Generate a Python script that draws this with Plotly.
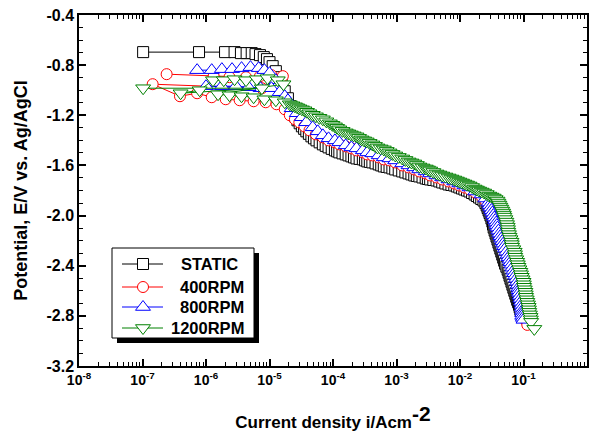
import numpy as np
import plotly.graph_objects as go

# ---- data (log10 of current density in A/cm^2, potential in V) ----
static_logi = [-6.99, -6.11, -5.70, -5.55, -5.45, -5.36, -5.28, -5.22, -5.15, -5.09, -5.04, -5.00,
               -4.95, -4.90, -4.86, -4.81, -4.76, -4.71, -4.67,
               -4.62, -4.59, -4.56, -4.525, -4.49, -4.455, -4.42, -4.38, -4.34, -4.30, -4.26, -4.21,
               -4.16, -4.115, -4.07, -4.02, -3.97, -3.935, -3.90, -3.85, -3.80, -3.755, -3.71, -3.67,
               -3.63, -3.58, -3.53, -3.495, -3.46, -3.42, -3.38, -3.33, -3.28, -3.24, -3.20, -3.155,
               -3.11, -3.065, -3.02, -2.965, -2.91, -2.86, -2.81, -2.765, -2.72, -2.68, -2.64, -2.59,
               -2.54, -2.505, -2.47, -2.42, -2.37, -2.325, -2.28, -2.23, -2.18, -2.135, -2.09, -2.05,
               -2.01, -1.97, -1.93, -1.89, -1.85, -1.81, -1.77, -1.735, -1.70, -1.665, -1.63,
               -1.60, -1.58, -1.565, -1.55, -1.535, -1.52, -1.505, -1.49, -1.48, -1.47, -1.455, -1.44,
               -1.425, -1.41, -1.395, -1.38, -1.365, -1.35, -1.335, -1.32, -1.305, -1.29, -1.27, -1.25,
               -1.235, -1.22, -1.205, -1.19, -1.175, -1.16, -1.145, -1.13, -1.115, -1.10, -1.085, -1.07,
               -1.06, -1.05]
static_e = [-0.696, -0.696, -0.696, -0.696, -0.704, -0.704, -0.704, -0.712, -0.72, -0.736, -0.752, -0.776,
            -0.808, -0.848, -0.896, -0.952, -1.008, -1.064, -1.128,
            -1.184, -1.212, -1.24, -1.264, -1.288, -1.308, -1.328, -1.348, -1.368, -1.384, -1.40, -1.416,
            -1.432, -1.444, -1.456, -1.468, -1.48, -1.488, -1.496, -1.504, -1.512, -1.52, -1.528, -1.536,
            -1.544, -1.548, -1.552, -1.56, -1.568, -1.572, -1.576, -1.584, -1.592, -1.60, -1.608, -1.612,
            -1.616, -1.624, -1.632, -1.64, -1.648, -1.656, -1.664, -1.672, -1.68, -1.684, -1.688, -1.696,
            -1.704, -1.708, -1.712, -1.716, -1.72, -1.728, -1.736, -1.744, -1.752, -1.756, -1.76, -1.768,
            -1.776, -1.784, -1.792, -1.80, -1.808, -1.82, -1.832, -1.844, -1.856, -1.868, -1.88,
            -1.90, -1.92, -1.94, -1.96, -1.98, -2.00, -2.024, -2.048, -2.072, -2.096, -2.12, -2.144,
            -2.168, -2.192, -2.216, -2.24, -2.264, -2.288, -2.312, -2.336, -2.36, -2.384, -2.408, -2.432,
            -2.456, -2.48, -2.504, -2.528, -2.552, -2.576, -2.60, -2.624, -2.648, -2.672, -2.692, -2.712,
            -2.732, -2.752]

rpm400_logi = [-6.62, -5.88, -5.63, -5.37, -5.15, -4.97, -4.79, -4.90, -5.12, -6.84, -6.41, -6.14,
               -5.91, -5.69, -5.47, -5.25, -5.06, -4.89, -4.76,
               -4.68, -4.60, -4.53, -4.45, -4.37, -4.27, -4.16, -4.07, -3.97, -3.90, -3.80, -3.71,
               -3.63, -3.53, -3.46, -3.38, -3.28, -3.20, -3.11, -3.02, -2.91, -2.81, -2.72, -2.64,
               -2.54, -2.47, -2.37, -2.28, -2.18, -2.09, -2.01, -1.93, -1.85, -1.76, -1.66, -1.60,
               -1.55,
               -1.52, -1.49, -1.46, -1.43, -1.39, -1.36, -1.33, -1.30, -1.27, -1.24, -1.21, -1.18,
               -1.14, -1.11, -1.08, -1.05, -1.02, -1.00, -0.99, -0.97, -0.96, -0.94]
rpm400_e = [-0.872, -0.888, -0.896, -0.896, -0.888, -0.88, -0.888, -0.968, -0.984, -0.952, -1.048, -1.024,
            -1.056, -1.072, -1.08, -1.088, -1.096, -1.112, -1.152,
            -1.20, -1.232, -1.256, -1.288, -1.32, -1.352, -1.376, -1.40, -1.416, -1.432, -1.448, -1.464,
            -1.48, -1.496, -1.512, -1.52, -1.536, -1.552, -1.56, -1.576, -1.60, -1.616, -1.632, -1.648,
            -1.664, -1.68, -1.696, -1.712, -1.728, -1.744, -1.76, -1.776, -1.792, -1.816, -1.848, -1.88,
            -1.912,
            -1.952, -1.992, -2.032, -2.072, -2.12, -2.16, -2.20, -2.24, -2.288, -2.328, -2.376, -2.416,
            -2.464, -2.512, -2.56, -2.608, -2.656, -2.704, -2.752, -2.80, -2.84, -2.872]

rpm800_logi = [-6.14, -5.91, -5.75, -5.59, -5.44, -5.30, -5.17, -5.08, -5.00, -4.90, -5.14, -5.33,
               -5.53, -5.75, -6.00, -4.97, -4.84, -4.76,
               -4.71, -4.65, -4.57, -4.49, -4.42, -4.32, -4.24, -4.16, -4.07, -3.97, -3.90, -3.80,
               -3.71, -3.63, -3.53, -3.46, -3.38, -3.28, -3.20, -3.11, -3.02, -2.91, -2.81, -2.72,
               -2.64, -2.54, -2.47, -2.37, -2.28, -2.18, -2.09, -2.01, -1.93, -1.85, -1.76, -1.66,
               -1.60, -1.55,
               -1.535, -1.52, -1.505, -1.49, -1.475, -1.46, -1.445, -1.43, -1.42, -1.41, -1.395, -1.38,
               -1.365, -1.35, -1.335, -1.32, -1.305, -1.29, -1.27, -1.25, -1.235, -1.22, -1.205, -1.19,
               -1.175, -1.16, -1.145, -1.13, -1.115, -1.10, -1.09, -1.08, -1.075, -1.07, -1.06, -1.05,
               -1.04, -1.03, -1.025, -1.02, -1.02, -1.02, -1.01, -1.00]
rpm800_e = [-0.84, -0.84, -0.832, -0.832, -0.824, -0.816, -0.824, -0.84, -0.864, -0.92, -0.984, -0.976,
            -0.968, -0.968, -0.968, -0.984, -1.016, -1.048,
            -1.08, -1.144, -1.184, -1.216, -1.256, -1.296, -1.328, -1.36, -1.384, -1.40, -1.416, -1.44,
            -1.456, -1.464, -1.48, -1.496, -1.504, -1.52, -1.536, -1.544, -1.56, -1.584, -1.60, -1.616,
            -1.632, -1.648, -1.664, -1.68, -1.696, -1.712, -1.728, -1.744, -1.76, -1.776, -1.808, -1.832,
            -1.864, -1.896,
            -1.916, -1.936, -1.956, -1.976, -1.996, -2.016, -2.036, -2.056, -2.076, -2.096, -2.12, -2.144,
            -2.164, -2.184, -2.204, -2.224, -2.244, -2.264, -2.288, -2.312, -2.332, -2.352, -2.372, -2.392,
            -2.416, -2.44, -2.46, -2.48, -2.504, -2.528, -2.552, -2.576, -2.596, -2.616, -2.64, -2.664,
            -2.688, -2.712, -2.736, -2.76, -2.78, -2.80, -2.816, -2.832]

rpm1200_logi = [-6.99, -5.12, -6.40, -6.10, -5.89, -5.72, -5.55, -5.37, -5.20, -5.03, -4.87, -4.78,
                -5.81, -5.63, -5.44, -5.25, -5.08, -4.90, -4.76,
                -4.68, -4.64, -4.60, -4.565, -4.53, -4.49, -4.45, -4.41, -4.37, -4.32, -4.27, -4.215,
                -4.16, -4.105, -4.05, -4.01, -3.97, -3.935, -3.90, -3.85, -3.80, -3.76, -3.72, -3.675,
                -3.63, -3.59, -3.55, -3.51, -3.47, -3.425, -3.38, -3.34, -3.30, -3.25, -3.20, -3.155,
                -3.11, -3.065, -3.02, -2.965, -2.91, -2.86, -2.81, -2.765, -2.72, -2.68, -2.64, -2.59,
                -2.54, -2.505, -2.47, -2.42, -2.37, -2.325, -2.28, -2.23, -2.18, -2.135, -2.09, -2.05,
                -2.01, -1.97, -1.93, -1.89, -1.85, -1.81, -1.77, -1.735, -1.70, -1.66, -1.62, -1.58,
                -1.54, -1.505, -1.47, -1.44, -1.41,
                -1.395, -1.38, -1.365, -1.35, -1.335, -1.32, -1.31, -1.30, -1.285, -1.27, -1.26, -1.25,
                -1.245, -1.24, -1.23, -1.22, -1.205, -1.19, -1.185, -1.18, -1.16, -1.14, -1.135, -1.13,
                -1.115, -1.10, -1.09, -1.08, -1.065, -1.05, -1.04, -1.03, -1.015, -1.00, -0.995, -0.99,
                -0.98, -0.97, -0.965, -0.96, -0.95, -0.94, -0.93, -0.92, -0.915, -0.91, -0.90, -0.89,
                -0.885, -0.88, -0.83]
rpm1200_e = [-0.984, -0.984, -1.024, -1.00, -0.92, -0.92, -0.912, -0.92, -0.912, -0.904, -0.92, -0.952,
             -1.032, -1.04, -1.048, -1.056, -1.072, -1.08, -1.096,
             -1.112, -1.12, -1.128, -1.136, -1.144, -1.152, -1.16, -1.172, -1.184, -1.196, -1.208, -1.22,
             -1.232, -1.248, -1.264, -1.276, -1.288, -1.30, -1.312, -1.324, -1.336, -1.344, -1.352, -1.36,
             -1.368, -1.38, -1.392, -1.40, -1.408, -1.42, -1.432, -1.444, -1.456, -1.464, -1.472, -1.484,
             -1.496, -1.508, -1.52, -1.532, -1.544, -1.556, -1.568, -1.576, -1.584, -1.596, -1.608, -1.616,
             -1.624, -1.632, -1.64, -1.652, -1.664, -1.672, -1.68, -1.688, -1.696, -1.704, -1.712, -1.72,
             -1.728, -1.736, -1.744, -1.752, -1.76, -1.772, -1.784, -1.792, -1.80, -1.808, -1.816, -1.828,
             -1.84, -1.848, -1.856, -1.868, -1.88,
             -1.896, -1.912, -1.928, -1.944, -1.96, -1.976, -1.992, -2.008, -2.028, -2.048, -2.068, -2.088,
             -2.108, -2.128, -2.148, -2.168, -2.188, -2.208, -2.228, -2.248, -2.268, -2.288, -2.308, -2.328,
             -2.348, -2.368, -2.388, -2.408, -2.428, -2.448, -2.468, -2.488, -2.508, -2.528, -2.548, -2.568,
             -2.588, -2.608, -2.628, -2.648, -2.668, -2.688, -2.708, -2.728, -2.748, -2.768, -2.788, -2.808,
             -2.828, -2.848, -2.904]

series_names = ["STATIC", "400RPM", "800RPM", "1200RPM"]
series_colors = ["#000000", "#FF0000", "#0000FF", "#008000"]
series_symbols = ["square", "circle", "triangle-up", "triangle-down"]
series_sizes = [11, 11, 13, 13]
series_data = [(static_logi, static_e), (rpm400_logi, rpm400_e),
               (rpm800_logi, rpm800_e), (rpm1200_logi, rpm1200_e)]

x_exponents = list(range(-8, 1))
y_ticks = [-0.4, -0.8, -1.2, -1.6, -2.0, -2.4, -2.8, -3.2]

FONT = "Liberation Sans, Arial, sans-serif"

W, H = 597, 433
L, R, T, B = 79, 10, 15, 67
pw, ph = W - L - R, H - T - B


def px2paper(x, y):
    return (x - L) / pw, (H - B - y) / ph


fig = go.Figure()
for name, (li, e), col, sym, sz in zip(series_names, series_data, series_colors, series_symbols, series_sizes):
    n = min(len(li), len(e))
    fig.add_trace(go.Scatter(
        x=np.power(10.0, np.array(li[:n])), y=e[:n], mode="lines+markers", name=name,
        line=dict(color=col, width=1), showlegend=False,
        marker=dict(symbol=sym, size=sz, color="white", line=dict(color=col, width=1)),
    ))

# ---- hand-built legend (framed box with a drop shadow, like the reference) ----
legend_rows_px = [264, 287, 307, 328]
legend_text_cx = [209, 212, 212, 207]
sx0, sy0 = px2paper(117, 343)
sx1, sy1 = px2paper(259, 253)
bx0, by0 = px2paper(112, 338)
bx1, by1 = px2paper(254, 248)
shapes = [
    dict(type="rect", xref="paper", yref="paper", x0=sx0, y0=sy0, x1=sx1, y1=sy1,
         fillcolor="black", line=dict(width=0), layer="below"),
    dict(type="rect", xref="paper", yref="paper", x0=bx0, y0=by0, x1=bx1, y1=by1,
         fillcolor="white", line=dict(color="black", width=1), layer="below"),
]
annotations = []
for name, col, sym, sz, ry, tcx in zip(series_names, series_colors, series_symbols, series_sizes,
                                       legend_rows_px, legend_text_cx):
    xa, yy = px2paper(122, ry)
    xb, _ = px2paper(163, ry)
    xm, _ = px2paper(143, ry)
    fig.add_trace(go.Scatter(x=[xa, xb], y=[yy, yy], mode="lines", xaxis="x2", yaxis="y2",
                             line=dict(color=col, width=1), showlegend=False, hoverinfo="skip"))
    fig.add_trace(go.Scatter(x=[xm], y=[yy], mode="markers", xaxis="x2", yaxis="y2", name=name,
                             marker=dict(symbol=sym, size=sz, color="white", line=dict(color=col, width=1)),
                             showlegend=False, hoverinfo="skip"))
    tx, _ = px2paper(tcx, ry)
    annotations.append(dict(text="<b>%s</b>" % name, xref="paper", yref="paper", x=tx, y=yy,
                            xanchor="center", yanchor="middle", showarrow=False,
                            font=dict(family=FONT, size=16.5, color="black")))

fig.update_layout(
    width=W, height=H, autosize=False,
    margin=dict(l=L, r=R, t=T, b=B, autoexpand=False),
    paper_bgcolor="white", plot_bgcolor="white",
    shapes=shapes, annotations=annotations,
    showlegend=False,
    xaxis=dict(
        type="log", range=[-8, 0], automargin=False,
        tickvals=[10.0 ** k for k in x_exponents],
        ticktext=["<b>10<sup>%d</sup></b>" % k for k in x_exponents],
        ticks="inside", ticklen=7, tickwidth=1.5, tickcolor="black",
        showline=True, linecolor="black", linewidth=1.5, mirror="ticks",
        showgrid=False, zeroline=False,
        minor=dict(tickvals=[m * 10.0 ** k for k in range(-8, 0) for m in range(2, 10)],
                   ticks="inside", ticklen=4, tickwidth=1, tickcolor="black", showgrid=False),
        tickfont=dict(family=FONT, size=14, color="black"),
        title=dict(text="<b>Current density i/Acm<sup><span style=\"font-size:21px\">-2</span></sup></b>",
                   font=dict(family=FONT, size=17, color="black"), standoff=30),
    ),
    yaxis=dict(
        range=[-3.2, -0.4], automargin=False,
        tickvals=y_ticks, ticktext=["<b>%.1f</b>" % v for v in y_ticks],
        ticks="inside", ticklen=7, tickwidth=1.5, tickcolor="black",
        showline=True, linecolor="black", linewidth=1.5, mirror="ticks",
        showgrid=False, zeroline=False,
        minor=dict(dtick=0.1, tick0=-0.4, ticks="inside", ticklen=4, tickwidth=1, tickcolor="black",
                   showgrid=False),
        tickfont=dict(family=FONT, size=16, color="black"),
        title=dict(text="<b>Potential, E/V vs. Ag/AgCl</b>",
                   font=dict(family=FONT, size=18, color="black"), standoff=14),
    ),
    xaxis2=dict(overlaying="x", range=[0, 1], visible=False, fixedrange=True),
    yaxis2=dict(overlaying="y", range=[0, 1], visible=False, fixedrange=True),
)

fig.write_html("out.html")
